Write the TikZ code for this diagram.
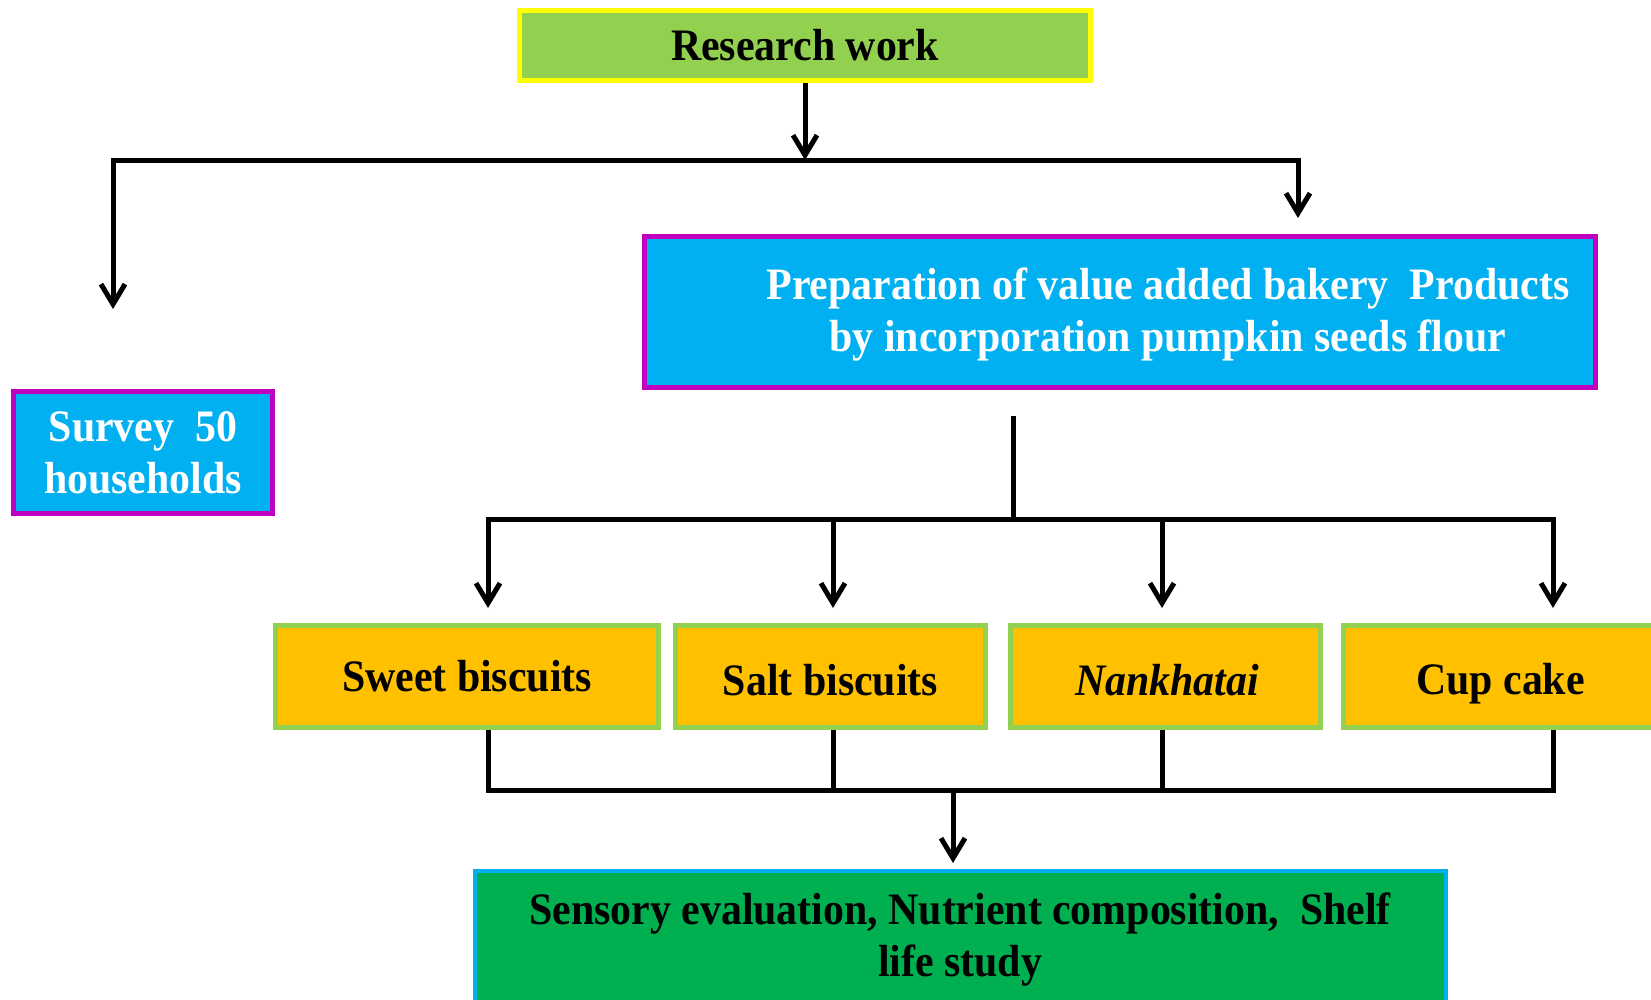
\documentclass[tikz,border=0pt]{standalone}
\usepackage{fontspec}
\setmainfont{Liberation Serif}[FakeStretch=0.93]
\usetikzlibrary{arrows.meta}
\definecolor{rwgreen}{HTML}{92D050}
\definecolor{rwyellow}{HTML}{FFFF00}
\definecolor{cyanb}{HTML}{00B0F0}
\definecolor{magb}{HTML}{C000C0}
\definecolor{orangeb}{HTML}{FFC000}
\definecolor{darkg}{HTML}{00B050}
\begin{document}
\begin{tikzpicture}[x=1pt,y=-1pt,
  box/.style={draw, line width=5pt, inner sep=0pt, minimum width=#1, align=center,
    font=\fontsize{45}{52}\selectfont\bfseries},
  box/.default=10pt,
  txt/.style={inner sep=0pt, align=center, font=\fontsize{45}{52}\selectfont\bfseries},
  conn/.style={line width=5pt, line join=miter},
  arr/.style={conn, -{Straight Barb[length=20pt,width=24pt]}}]
\useasboundingbox (0,0) rectangle (1651,999);

% junction coordinates
\coordinate (hbar) at (807,160);
\coordinate (sL) at (113,309);
\coordinate (pT) at (1298,218);
\coordinate (m0) at (1013,416);
\coordinate (mb) at (1013,519);
\coordinate (a1) at (488,608);
\coordinate (a2) at (833,608);
\coordinate (a3) at (1162,608);
\coordinate (a4) at (1553,608);
\coordinate (c1) at (488,790);
\coordinate (c2) at (833,790);
\coordinate (c3) at (1162,790);
\coordinate (c4) at (1553,790);
\coordinate (cm) at (953,790);
\coordinate (ce) at (953,863);

% boxes
\node[box=571pt, minimum height=70pt, fill=rwgreen, draw=rwyellow] (research) at (805,45.5) {Research work};
\node[box=951pt, minimum height=151pt, fill=cyanb, draw=magb] (prep) at (1120,312) {};
\node[txt, text=white] (preptext) at (1168,315) {Preparation of value added bakery\ \ Products\\by incorporation pumpkin seeds flour};
\node[box=259pt, minimum height=122pt, fill=cyanb, draw=magb, text=white] (survey) at (143,452.5) {Survey\ \ 50\\households};
\node[box=383pt, minimum height=102pt, fill=orangeb, draw=rwgreen] (sweet) at (467,676.5) {Sweet biscuits};
\node[box=310pt, minimum height=102pt, fill=orangeb, draw=rwgreen] (salt) at (830.5,676.5) {};
\node[txt] (salttext) at (830.5,680) {Salt biscuits};
\node[box=310pt, minimum height=102pt, fill=orangeb, draw=rwgreen] (nank) at (1165.5,676.5) {};
\node[txt] (nanktext) at (1167,680) {\textit{Nankhatai}};
\node[box=314pt, minimum height=102pt, fill=orangeb, draw=rwgreen] (cup) at (1500.5,676.5) {};
\node[txt] (cuptext) at (1500.5,684) {Cup cake};
\node[box=971pt, minimum height=157pt, fill=darkg, draw=cyanb, line width=4pt] (final) at (960.5,949) {};
\node[txt] (finaltext) at (960,939) {Sensory evaluation, Nutrient composition,\ \ Shelf\\life study};

% connectors
\draw[arr] (research.south) -- (research.south |- hbar);
\draw[arr] (research.south |- hbar) -| (sL);
\draw[arr] (research.south |- hbar) -| (pT);
\draw[conn] (m0) -- (mb);
\draw[arr] (mb) -| (a1);
\draw[arr] (mb) -| (a4);
\draw[arr] (a2 |- mb) -- (a2);
\draw[arr] (a3 |- mb) -- (a3);
\draw[conn] (c1 |- sweet.south) |- (c4) -- (c4 |- cup.south);
\draw[conn] (c2 |- salt.south) -- (c2);
\draw[conn] (c3 |- nank.south) -- (c3);
\draw[arr] (cm) -- (ce);
\end{tikzpicture}
\end{document}
